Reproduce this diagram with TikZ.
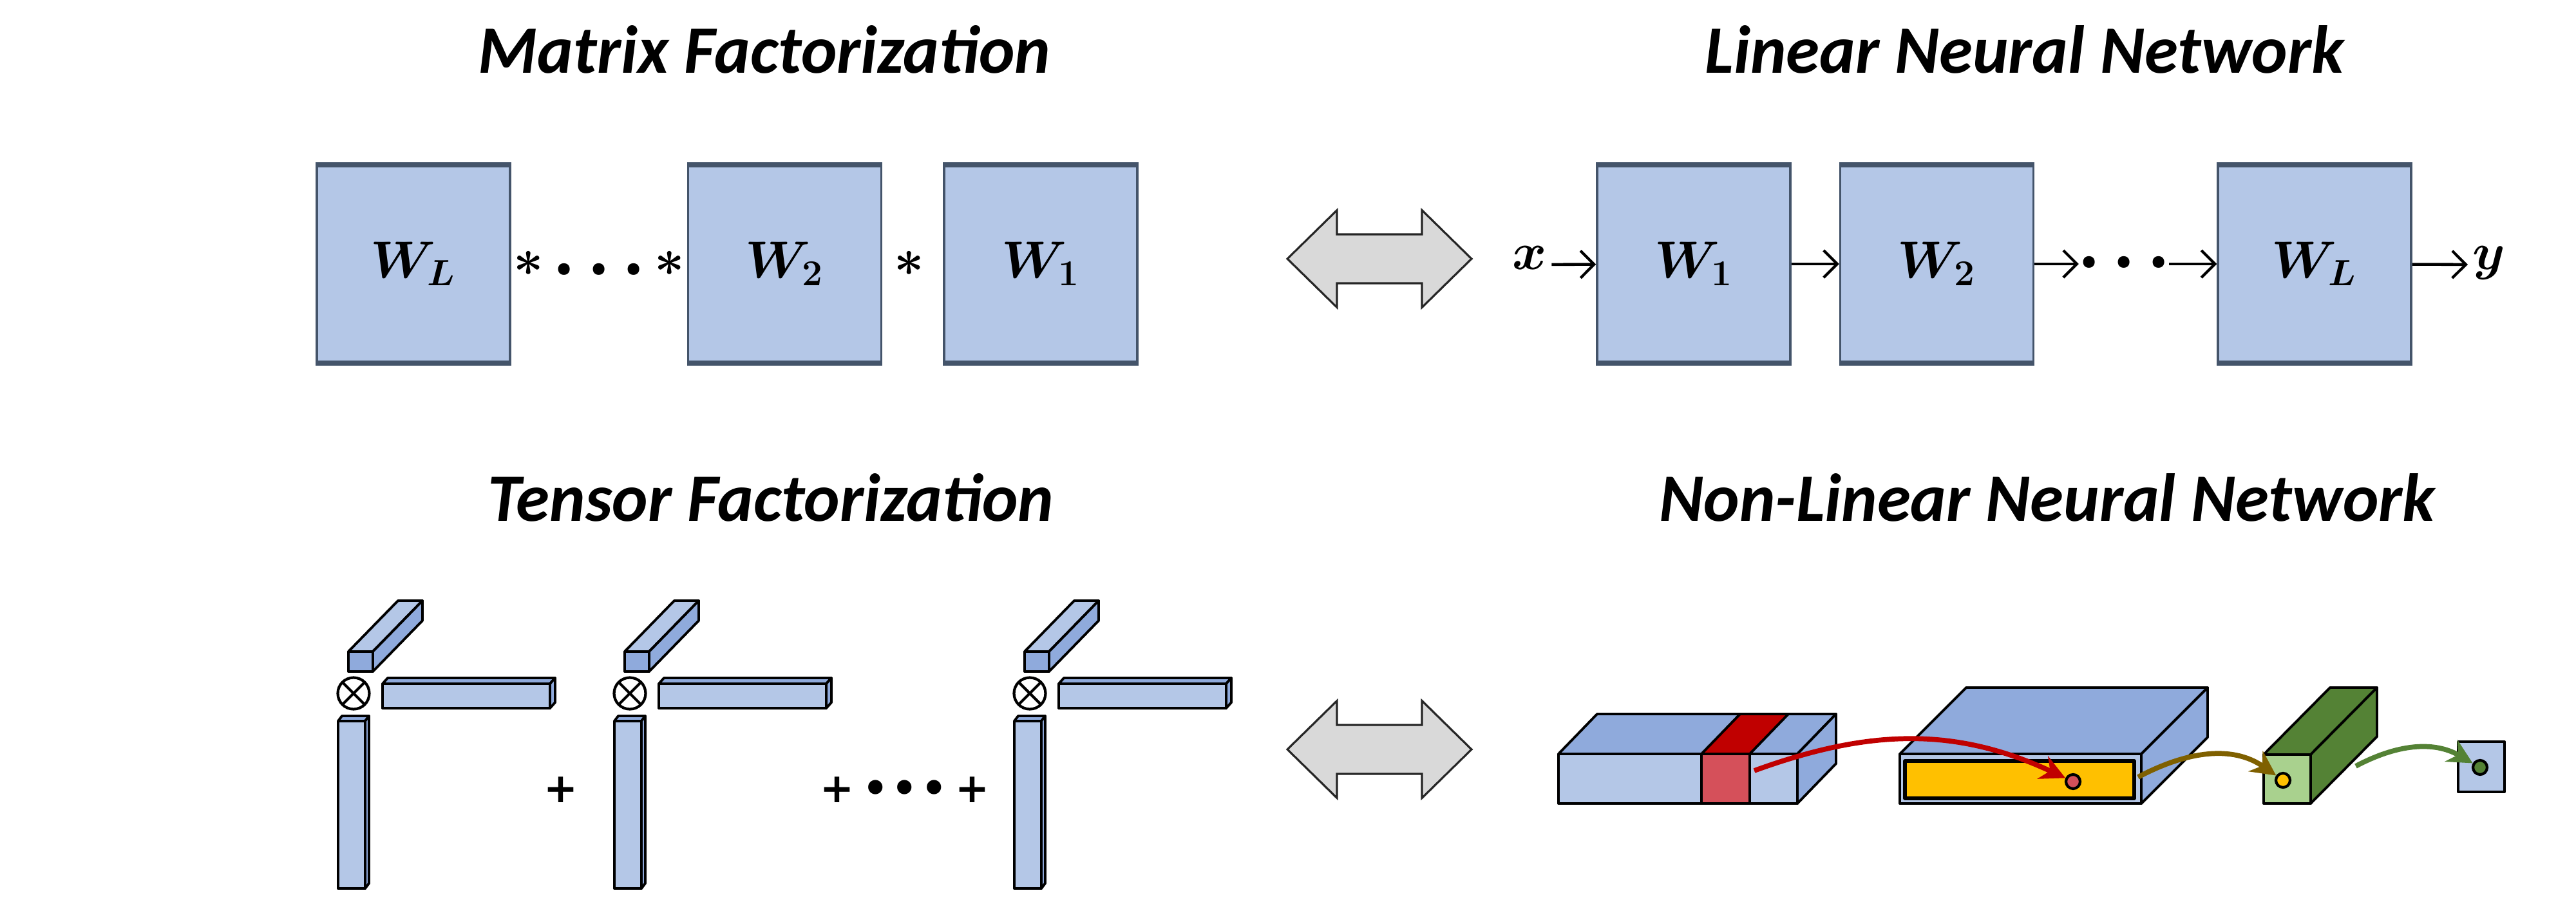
\RequirePackage{fix-cm}
\documentclass[tikz,border=0pt]{standalone}
\usepackage{amsmath,amssymb,bm}
\usepackage{fontspec}
\newfontfamily\calibri{Carlito}
\newfontfamily\dejavu{DejaVu Sans}
\usepackage{xcolor}
\usepackage{tikz}
\usetikzlibrary{arrows.meta, positioning}

\definecolor{boxblue}{HTML}{B4C7E7}
\definecolor{boxdark}{HTML}{8FAADC}
\definecolor{boxedge}{HTML}{44546A}
\definecolor{bandred}{HTML}{C00000}
\definecolor{bandpink}{HTML}{D5505A}
\definecolor{featgold}{HTML}{FFC000}
\definecolor{arrolive}{HTML}{7F6000}
\definecolor{featgreen}{HTML}{548235}
\definecolor{paleg}{HTML}{A9D18E}
\definecolor{arrgray}{HTML}{D9D9D9}

\newcommand{\mathbig}{\fontsize{23}{28}\selectfont\boldmath}
\newcommand{\sdot}{{\scriptscriptstyle\bullet}}

% cuboid: x, y, width, height, depth dx, depth dy, front, top, side
\newcommand{\cuboid}[9]{%
  \draw[face, fill=#7] (#1,#2) rectangle ++(#3,#4);
  \draw[face, fill=#8] (#1,#2) ++(0,#4) -- ++(#5,#6) -- ++(#3,0) -- ++(-#5,-#6) -- cycle;
  \draw[face, fill=#9] (#1,#2) ++(#3,0) -- ++(#5,#6) -- ++(0,#4) -- ++(-#5,-#6) -- cycle;
}

\tikzset{
  heading/.style={font=\calibri\fontsize{30}{36}\selectfont\bfseries\itshape},
  wbox/.style={rectangle, draw=boxedge, fill=boxblue, line width=1pt,
               minimum width=3cm, minimum height=3.05cm, font=\mathbig},
  wedge/.style={draw=boxedge, line width=2.2pt},
  mlabel/.style={inner sep=2pt, font=\mathbig, text height=1.5ex, text depth=.5ex},
  arrow/.style={-{Straight Barb[length=6pt, width=12pt, line width=1.2pt]},
                line width=1.3pt},
  dblarr/.style={draw=black!85, line width=0.9pt, fill=arrgray},
  face/.style={draw=black, line width=1.1pt, line join=round},
  otimes/.style={line width=1.2pt},
  plus/.style={inner sep=1pt, font=\dejavu\bfseries\fontsize{18}{22}\selectfont},
  unitdot/.style={circle, draw, line width=1.2pt, minimum size=0.22cm, inner sep=0pt},
  curvearr/.style={-{Stealth[length=11pt, width=11pt]}, line width=2.2pt},
}

\begin{document}
\begin{tikzpicture}
  \useasboundingbox (0,0) rectangle (40,14.14);

  % headings
  \node[heading] (mfhead)  at (11.87,13.37) {Matrix Factorization};
  \node[heading] (lnnhead) at (31.44,13.37) {Linear Neural Network};
  \node[heading] (tfhead)  at (11.97,6.41)  {Tensor Factorization};
  \node[heading] (nlnhead) at (31.79,6.41)  {Non-Linear Neural Network};

  % matrix factorization
  \node[wbox] (mwl) at (6.42,10.04) {$W_L$};
  \node[wbox, right=2.73cm of mwl] (mw2) {$W_2$};
  \node[wbox, right=0.94cm of mw2] (mw1) {$W_1$};
  \node[mlabel] (mdots) at (9.30,9.93)
    {${*}\mkern4mu\sdot\mkern6mu\sdot\mkern6mu\sdot\mkern4mu{*}$};
  \node[mlabel] (mstar) at (14.12,9.93) {${*}$};

  % linear network
  \node[wbox] (nw1) at (26.30,10.04) {$W_1$};
  \node[wbox, right=0.74cm of nw1] (nw2) {$W_2$};
  \node[wbox] (nwl) at (35.94,10.04) {$W_L$};
  \node[mlabel] (xin) at (23.75,10.03) {$x$};
  \node[mlabel, inner sep=1pt] (ndots) at (32.98,10.04)
    {$\sdot\mkern6mu\sdot\mkern6mu\sdot$};
  \node[mlabel] (yout) at (38.65,10.03) {$y$};

  \foreach \n in {mwl,mw2,mw1,nw1,nw2,nwl}
    \draw[wedge] (\n.north west) -- (\n.north east) (\n.south west) -- (\n.south east);

  \draw[arrow] (xin) -- (nw1);
  \draw[arrow] (nw1) -- (nw2);
  \draw[arrow] (nw2) -- (ndots);
  \draw[arrow] (ndots) -- (nwl);
  \draw[arrow] (nwl) -- (yout);

  % equivalence arrows
  \foreach \y in {10.12,2.50}
    \draw[dblarr, shift={(21.42,\y)}] (-1.43,0) -- (-0.66,0.755) -- (-0.66,0.38)
      -- (0.66,0.38) -- (0.66,0.755) -- (1.43,0) -- (0.66,-0.755) -- (0.66,-0.38)
      -- (-0.66,-0.38) -- (-0.66,-0.755) -- cycle;

  % tensor factorization, three rank-one terms
  \foreach \o in {0,4.29,10.50} {
    \cuboid{5.41+\o}{3.71}{0.38}{0.31}{0.77}{0.79}{boxdark}{boxblue}{boxdark}
    \cuboid{5.94+\o}{3.14}{2.60}{0.38}{0.08}{0.09}{boxblue}{boxdark}{boxdark}
    \cuboid{5.25+\o}{0.34}{0.42}{2.60}{0.06}{0.08}{boxblue}{boxdark}{boxdark}
    \draw[otimes] (5.49+\o,3.37) circle (0.245)
      +(45:0.245) -- +(225:0.245) +(135:0.245) -- +(315:0.245);
  }
  \node[plus] (plusa) at (8.71,1.87) {+};
  \node[plus] (plusb) at (14.05,1.87)
    {+\hspace{0.2em}•\hspace{0.08em}•\hspace{0.08em}•\hspace{0.2em}+};

  % non-linear network
  \cuboid{24.20}{1.66}{3.71}{0.77}{0.60}{0.62}{boxblue}{boxdark}{boxdark}
  \draw[face, fill=bandpink] (26.42,1.66) rectangle (27.17,2.43);
  \draw[face, fill=bandred] (26.42,2.43) -- ++(0.60,0.62) -- ++(0.75,0)
    -- ++(-0.60,-0.62) -- cycle;
  \cuboid{29.50}{1.66}{3.75}{0.77}{1.03}{1.03}{boxblue}{boxdark}{boxdark}
  \draw[face, line width=1.6pt, fill=featgold] (29.58,1.74) rectangle (33.14,2.32);
  \cuboid{35.15}{1.66}{0.73}{0.76}{1.03}{1.04}{paleg}{featgreen}{featgreen}
  \node[face, fill=boxblue, minimum width=0.72cm, minimum height=0.78cm,
        inner sep=0pt] (outbox) at (38.53,2.23) {};

  \node[unitdot, fill=bandpink] (rdot) at (32.19,2.00) {};
  \node[unitdot, fill=featgold] (ydot) at (35.45,2.02) {};
  \node[unitdot, fill=featgreen] (gdot) at (38.51,2.22) {};
  \coordinate (rstart) at (27.24,2.17);
  \coordinate (ostart) at (33.20,2.07);
  \coordinate (gstart) at (36.58,2.24);

  \draw[curvearr, draw=bandred] (rstart) to[out=20, in=155] (rdot);
  \draw[curvearr, draw=arrolive] (ostart) to[out=28, in=145] (ydot);
  \draw[curvearr, draw=featgreen] (gstart) to[out=28, in=150] (gdot);
\end{tikzpicture}
\end{document}
